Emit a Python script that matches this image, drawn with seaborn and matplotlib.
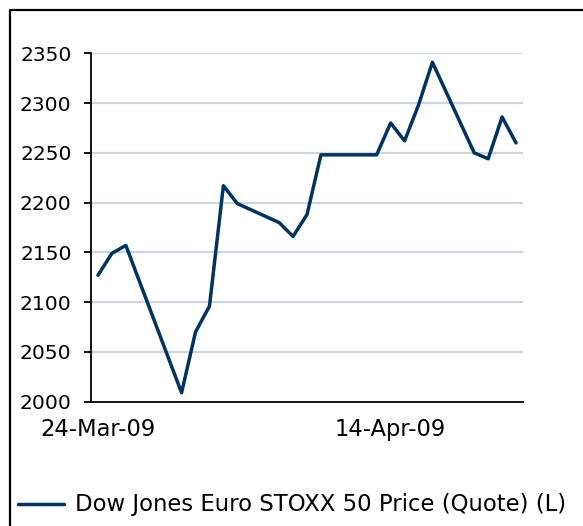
import pandas as pd
import seaborn as sns
import matplotlib.pyplot as plt
from matplotlib.lines import Line2D

# Dow Jones Euro STOXX 50 closing prices
dates = ["2009-03-24", "2009-03-25", "2009-03-26", "2009-03-30", "2009-03-31",
         "2009-04-01", "2009-04-02", "2009-04-03", "2009-04-06", "2009-04-07",
         "2009-04-08", "2009-04-09", "2009-04-13", "2009-04-14", "2009-04-15",
         "2009-04-16", "2009-04-17", "2009-04-20", "2009-04-21", "2009-04-22",
         "2009-04-23"]
prices = [2127, 2149, 2157, 2009, 2070, 2096, 2217, 2199, 2180, 2166, 2188,
          2248, 2248, 2280, 2262, 2298, 2341, 2250, 2244, 2286, 2260]
tick_dates = ["2009-03-24", "2009-04-14"]
tick_labels = ["24-Mar-09", "14-Apr-09"]
y_ticks = [2000, 2050, 2100, 2150, 2200, 2250, 2300, 2350]
series_name = "Dow Jones Euro STOXX 50 Price (Quote) (L)"

sns.set_style("white")
plt.rcParams['font.family'] = ['DejaVu Sans']
plt.rcParams['text.color'] = 'black'
fs = 16.3

# points sit in the middle of each day slot
df = pd.DataFrame({"date": pd.to_datetime(dates) + pd.Timedelta(hours=12),
                   "price": prices})

fig = plt.figure(figsize=(5.83, 5.26), dpi=100)
ax = fig.add_axes([91 / 583, 1 - 401.7 / 526, (523 - 91) / 583, (401.7 - 53.3) / 526])

for v in y_ticks[1:]:
    ax.axhline(v, color="#cbd6e0", lw=1.6, zorder=0)

sns.lineplot(data=df, x="date", y="price", ax=ax, color="#00335f", lw=2.5,
             label=series_name, legend=False)

ax.set_ylim(2000, 2350)
ax.set_yticks(y_ticks)
ax.set_xlim(pd.Timestamp("2009-03-24"), pd.Timestamp("2009-04-24"))

tick_pos = pd.to_datetime(tick_dates)
ax.set_xticks(tick_pos)
ax.set_xticklabels([])
ax.set_xticks(tick_pos + pd.Timedelta(hours=12), minor=True)
ax.set_xticklabels(tick_labels, minor=True)
ax.tick_params(axis="x", which="major", direction="out", length=5, width=1.3, color="black")
ax.tick_params(axis="x", which="minor", length=0, pad=12, labelsize=fs, labelcolor="black")
ax.tick_params(axis="y", direction="out", length=5, width=1.3, color="black",
               pad=9, labelsize=14.6, labelcolor="black", left=True)

ax.set_xlabel("")
ax.set_ylabel("")
for s in ["top", "right"]:
    ax.spines[s].set_visible(False)
for s in ["left", "bottom"]:
    ax.spines[s].set_color("black")
    ax.spines[s].set_linewidth(1.3)

# outer frame of the chart panel
fx, fy = 10 / 583, 1 - 10 / 526
fig.add_artist(Line2D([fx, fx, 1.0], [0.0, fy, fy], transform=fig.transFigure,
                      color="black", lw=1.6))

handles, labels = ax.get_legend_handles_labels()
leg = fig.legend(handles, labels, loc="center left", bbox_to_anchor=(18 / 583, 1 - 505 / 526),
                 frameon=False, fontsize=16.4, handlelength=2.0, handletextpad=0.5,
                 borderpad=0, borderaxespad=0)
for t in leg.get_texts():
    t.set_color("black")

fig.savefig("out.png", dpi=100)
